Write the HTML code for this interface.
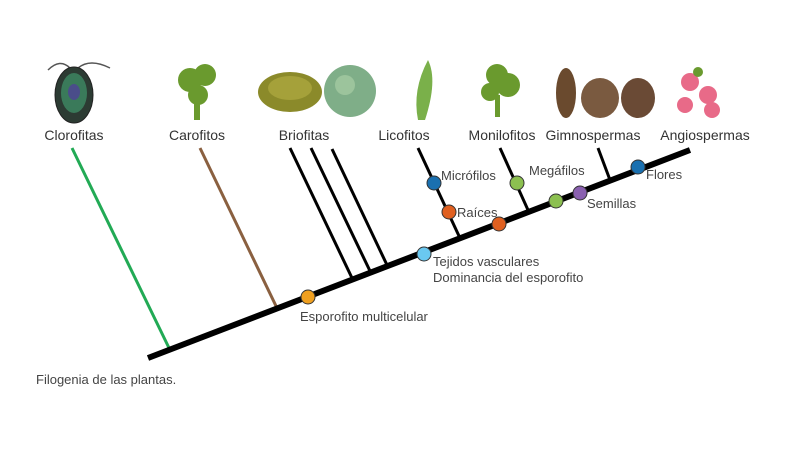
<!DOCTYPE html>
<html><head><style>
body{margin:0;background:#fff;width:800px;height:449px;overflow:hidden;font-family:"Liberation Sans",sans-serif}
</style></head><body>
<svg width="800" height="449" xmlns="http://www.w3.org/2000/svg" font-family="Liberation Sans, sans-serif">
<!-- images -->
<path d="M48 70 Q60 58 70 68 M78 68 Q90 58 110 68" stroke="#555" fill="none" stroke-width="1.5"/>
<ellipse cx="74" cy="95" rx="19" ry="28" fill="#2c3b33" stroke="#222"/>
<ellipse cx="74" cy="93" rx="13" ry="20" fill="#3a7a5a"/>
<ellipse cx="74" cy="92" rx="6" ry="8" fill="#4a4d8a"/>
<g fill="#6a9a2e"><circle cx="190" cy="80" r="12"/><circle cx="205" cy="75" r="11"/><circle cx="198" cy="95" r="10"/><rect x="194" y="95" width="6" height="25"/></g>
<ellipse cx="290" cy="92" rx="32" ry="20" fill="#8b8a2a"/>
<ellipse cx="290" cy="88" rx="22" ry="12" fill="#a5a13a"/>
<circle cx="350" cy="91" r="26" fill="#7fae88"/>
<circle cx="345" cy="85" r="10" fill="#9cc49c"/>
<path d="M418 120 Q412 90 428 60 Q438 80 425 120Z" fill="#7ab04a"/>
<g fill="#6a9a2e"><circle cx="497" cy="75" r="11"/><circle cx="508" cy="85" r="12"/><circle cx="490" cy="92" r="9"/><rect x="495" y="95" width="5" height="22"/></g>
<ellipse cx="566" cy="93" rx="10" ry="25" fill="#6a4a2e"/>
<ellipse cx="600" cy="98" rx="19" ry="20" fill="#7a5a40"/>
<ellipse cx="638" cy="98" rx="17" ry="20" fill="#6a4a35"/>
<g fill="#e86a88"><circle cx="690" cy="82" r="9"/><circle cx="708" cy="95" r="9"/><circle cx="685" cy="105" r="8"/><circle cx="712" cy="110" r="8"/><circle cx="698" cy="72" r="5" fill="#6a9a2e"/></g>
<!-- labels -->
<g font-size="14" fill="#333" text-anchor="middle">
<text x="74" y="140">Clorofitas</text><text x="197" y="140">Carofitos</text><text x="304" y="140">Briofitas</text>
<text x="404" y="140">Licofitos</text><text x="502" y="140">Monilofitos</text><text x="593" y="140">Gimnospermas</text><text x="705" y="140">Angiospermas</text>
</g>
<!-- branches -->
<line x1="72" y1="148" x2="170" y2="350" stroke="#22aa55" stroke-width="3"/>
<line x1="200" y1="148" x2="276" y2="306" stroke="#8a6040" stroke-width="3"/>
<g stroke="#000" stroke-width="3">
<line x1="290" y1="148" x2="352" y2="278"/><line x1="311" y1="148" x2="370" y2="271"/><line x1="332" y1="149" x2="387" y2="265"/>
<line x1="418" y1="148" x2="459" y2="236"/><line x1="500" y1="148" x2="528" y2="210"/><line x1="598" y1="148" x2="610" y2="180"/>
</g>
<line x1="148" y1="358" x2="690" y2="150" stroke="#000" stroke-width="6"/>
<!-- dots -->
<g stroke="#333" stroke-width="1">
<circle cx="308" cy="297" r="7" fill="#f0a020"/>
<circle cx="424" cy="254" r="7" fill="#6ac8f0"/>
<circle cx="499" cy="224" r="7" fill="#e06020"/>
<circle cx="449" cy="212" r="7" fill="#e06020"/>
<circle cx="434" cy="183" r="7" fill="#1a70b0"/>
<circle cx="517" cy="183" r="7" fill="#8cc050"/>
<circle cx="556" cy="201" r="7" fill="#8cc050"/>
<circle cx="580" cy="193" r="7" fill="#8a60b0"/>
<circle cx="638" cy="167" r="7" fill="#1a70b0"/>
</g>
<g font-size="13" fill="#444">
<text x="441" y="180">Micrófilos</text><text x="457" y="217">Raíces</text><text x="529" y="175">Megáfilos</text>
<text x="587" y="208">Semillas</text><text x="646" y="179">Flores</text>
<text x="433" y="266">Tejidos vasculares</text><text x="433" y="282">Dominancia del esporofito</text>
<text x="300" y="321">Esporofito multicelular</text>
<text x="36" y="384">Filogenia de las plantas.</text>
</g>
</svg>
</body></html>
